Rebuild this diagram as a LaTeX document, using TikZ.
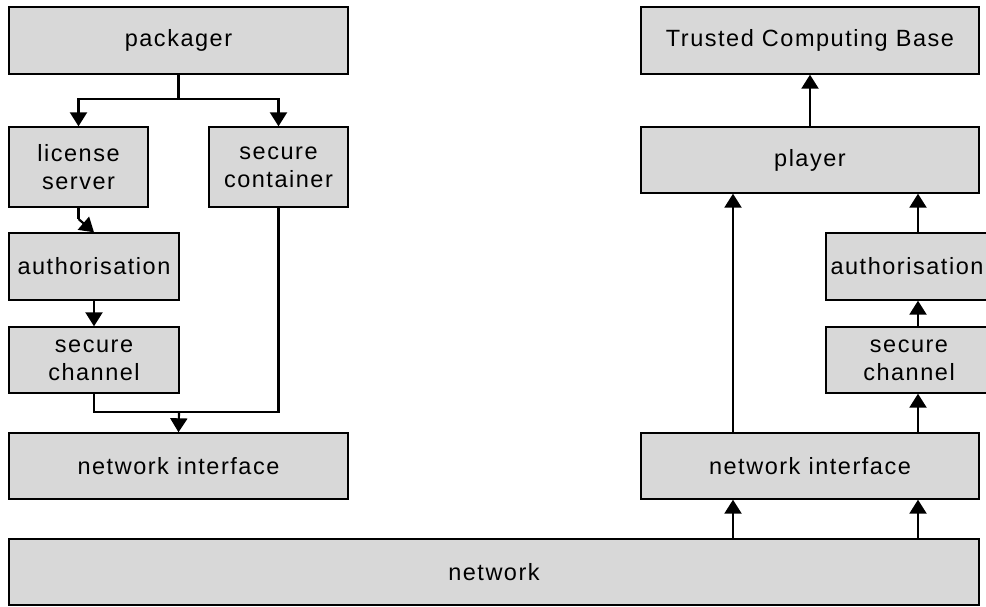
\documentclass[tikz,border=0pt]{standalone}
\usepackage{fontspec}
\setmainfont{Liberation Sans}[LetterSpace=6.5]
\usetikzlibrary{arrows.meta,calc}
\definecolor{boxgray}{RGB}{216,216,216}
\tikzset{
  blk/.style={draw=black, fill=boxgray, line width=1.4pt, rectangle, inner sep=0pt,
    align=center, font=\fontsize{23.5}{28}\selectfont},
  arr/.style={line width=2.2pt, -{Triangle[width=17pt,length=14pt]}},
  ln/.style={line width=2.2pt}
}
\begin{document}
\begin{tikzpicture}[x=1pt,y=-1pt]
\useasboundingbox (0,0) rectangle (986,607);
\clip (0,0) rectangle (986,607);
% left side
\node[blk, minimum width=339pt, minimum height=67pt] (pack) at (178.5,40.5) {packager};
\node[blk, minimum width=139pt, minimum height=80pt] (ls) at (78.5,167) {license\\server};
\node[blk, minimum width=139pt, minimum height=80pt] (sc) at (278.5,167) {secure\\container};
\node[blk, minimum width=170pt, minimum height=67pt] (authL) at (94,266.5) {authorisation};
\node[blk, minimum width=170pt, minimum height=66pt] (chanL) at (94,360) {secure\\channel};
\node[blk, minimum width=339pt, minimum height=66pt] (niL) at (178.5,466) {network interface};
% right side
\node[blk, minimum width=338pt, minimum height=67pt] (tcb) at (810,40.5) {Trusted Computing Base};
\node[blk, minimum width=338pt, minimum height=66pt] (player) at (810,160) {player};
\node[blk, minimum width=172pt, minimum height=67pt] (authR) at (912,266.5) {\hspace*{-10pt}authorisation};
\node[blk, minimum width=172pt, minimum height=66pt] (chanR) at (912,360) {\hspace*{-6pt}secure\\\hspace*{-6pt}channel};
\node[blk, minimum width=338pt, minimum height=66pt] (niR) at (810,466) {network interface};
% network
\node[blk, minimum width=970pt, minimum height=66pt] (net) at (494,572) {network};
% helper coordinates
\coordinate (split) at (178.5,99);
\coordinate (merge) at (179,412);
\coordinate (lx) at (733,0);
\coordinate (rx) at (918,0);
\coordinate (bend) at (78.5,219);
% left connectors
\draw[ln] (pack.south) -- (split);
\draw[arr] (split) -| (ls.north);
\draw[arr] (split) -| (sc.north);
\draw[ln] (ls.south) -- (bend);
\draw[arr] (bend) -- (authL.north);
\draw[arr] (authL.south) -- (chanL.north);
\draw[ln] (chanL.south) |- (merge);
\draw[ln] (sc.south) |- (merge);
\draw[arr] (merge) -- (niL.north);
% right connectors
\draw[arr] (player.north) -- (tcb.south);
\draw[arr] (niR.north -| lx) -- (player.south -| lx);
\draw[arr] (niR.north -| rx) -- (chanR.south -| rx);
\draw[arr] (chanR.north -| rx) -- (authR.south -| rx);
\draw[arr] (authR.north -| rx) -- (player.south -| rx);
\draw[arr] (net.north -| lx) -- (niR.south -| lx);
\draw[arr] (net.north -| rx) -- (niR.south -| rx);
\end{tikzpicture}
\end{document}
